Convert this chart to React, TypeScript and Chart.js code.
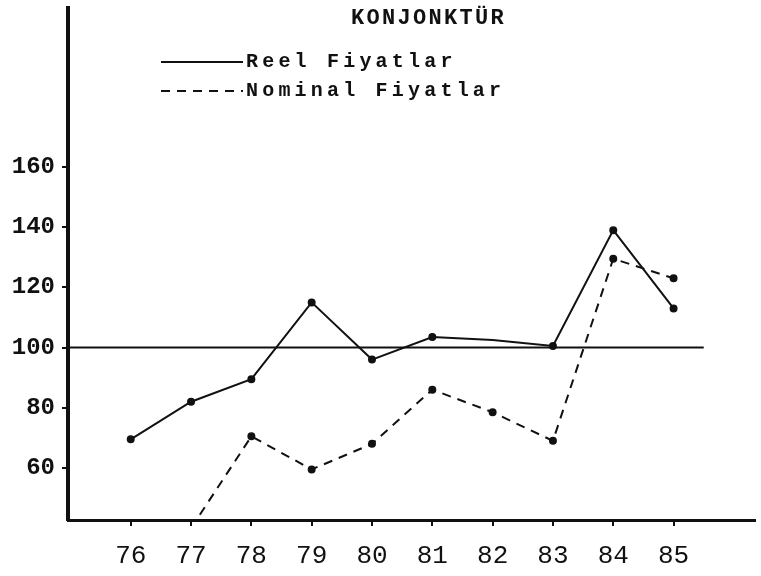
import React, { useEffect, useRef } from 'react';
import { Chart, registerables } from 'chart.js';

Chart.register(...registerables);

// ---- data ----
const chartTitle = 'KONJONKTÜR';
const years = [76, 77, 78, 79, 80, 81, 82, 83, 84, 85];
const yearLabels = ['76', '77', '78', '79', '80', '81', '82', '83', '84', '85'];
const reelLabel = 'Reel Fiyatlar';
const reelValues = [69.5, 82, 89.5, 115, 96, 103.5, 102.5, 100.5, 139, 113];
const nominalLabel = 'Nominal Fiyatlar';
const nominalValues = [null, 40, 70.5, 59.5, 68, 86, 78.5, 69, 129.5, 123];
const yTickValues = [60, 80, 100, 120, 140, 160];
const baseValue = 100;
const baseLineEndYear = 85.5;
const yMin = 42.7;
const yMax = 212.8;
const xMin = 74.96;
const xMax = 86.35;

const INK = '#111';
const FONT = '"Liberation Mono", "DejaVu Sans Mono", monospace';

const decorPlugin = {
  id: 'paperDecor',
  beforeDatasetsDraw(chart: any) {
    const { ctx, chartArea, scales } = chart;
    const y = scales.y.getPixelForValue(baseValue);
    const xEnd = scales.x.getPixelForValue(baseLineEndYear);
    ctx.save();
    ctx.strokeStyle = INK;
    ctx.lineWidth = 2;
    ctx.beginPath();
    ctx.moveTo(chartArea.left, y);
    ctx.lineTo(xEnd, y);
    ctx.stroke();
    ctx.restore();
  },
  afterDraw(chart: any) {
    const ctx = chart.ctx;
    ctx.save();
    ctx.fillStyle = INK;
    ctx.strokeStyle = INK;
    // title
    ctx.font = `bold 22px ${FONT}`;
    (ctx as any).letterSpacing = '2.3px';
    ctx.textAlign = 'left';
    ctx.textBaseline = 'middle';
    ctx.fillText(chartTitle, 351, 18);
    // legend
    const rows = [62, 91];
    chart.data.datasets.forEach((ds: any, i: number) => {
      const ry = rows[i];
      ctx.lineWidth = 2;
      ctx.setLineDash(ds.borderDash || []);
      ctx.beginPath();
      ctx.moveTo(161, ry);
      ctx.lineTo(243, ry);
      ctx.stroke();
      ctx.setLineDash([]);
      ctx.font = `bold 20px ${FONT}`;
      (ctx as any).letterSpacing = '4.2px';
      ctx.fillText(ds.label, 246, ry);
    });
    ctx.restore();
  },
};

export default function App() {
  const canvasRef = useRef<HTMLCanvasElement | null>(null);

  useEffect(() => {
    if (!canvasRef.current) return;
    const chart = new Chart(canvasRef.current, {
      type: 'line',
      data: {
        datasets: [
          {
            label: reelLabel,
            data: years.map((x, i) => ({ x, y: reelValues[i] })),
            borderColor: INK,
            backgroundColor: INK,
            borderWidth: 2,
            pointRadius: [3, 3, 3, 3, 3, 3, 0, 3, 3, 3],
            pointBackgroundColor: INK,
            pointBorderColor: INK,
            tension: 0,
          },
          {
            label: nominalLabel,
            data: years.map((x, i) => ({ x, y: nominalValues[i] })),
            borderColor: INK,
            backgroundColor: INK,
            borderWidth: 2,
            borderDash: [9, 7],
            pointRadius: [0, 0, 3, 3, 3, 3, 3, 3, 3, 3],
            pointBackgroundColor: INK,
            pointBorderColor: INK,
            tension: 0,
          },
        ],
      },
      options: {
        responsive: false,
        animation: false,
        devicePixelRatio: 1,
        layout: { padding: { top: 8, right: 1, left: 0, bottom: 0 } },
        plugins: {
          legend: { display: false },
          title: { display: false },
          tooltip: { enabled: false },
        },
        scales: {
          x: {
            type: 'linear',
            min: xMin,
            max: xMax,
            afterBuildTicks: (scale: any) => {
              scale.ticks = years.map((v) => ({ value: v }));
            },
            afterFit: (scale: any) => {
              scale.height = 56;
              scale.paddingLeft = 0;
              scale.paddingRight = 0;
            },
            grid: {
              drawOnChartArea: false,
              drawTicks: true,
              tickLength: 6,
              color: INK,
              lineWidth: 2,
            },
            border: { display: true, color: INK, width: 3 },
            ticks: {
              autoSkip: false,
              maxRotation: 0,
              padding: 15,
              color: INK,
              font: { family: FONT, size: 26 },
              callback: (v: any) => {
                const idx = years.indexOf(Number(v));
                return idx >= 0 ? yearLabels[idx] : '';
              },
            },
          },
          y: {
            type: 'linear',
            min: yMin,
            max: yMax,
            afterBuildTicks: (scale: any) => {
              scale.ticks = yTickValues.map((v) => ({ value: v }));
            },
            afterFit: (scale: any) => {
              scale.width = 68;
              scale.paddingTop = 0;
              scale.paddingBottom = 0;
            },
            grid: {
              drawOnChartArea: false,
              drawTicks: true,
              tickLength: 6,
              color: INK,
              lineWidth: 2,
            },
            border: { display: true, color: INK, width: 4 },
            ticks: {
              padding: 7,
              color: INK,
              font: { family: FONT, size: 24, weight: 'bold' },
              callback: (v: any) => String(v),
            },
          },
        },
      },
      plugins: [decorPlugin],
    });
    return () => chart.destroy();
  }, []);

  return (
    <div
      style={{
        position: 'fixed',
        left: 0,
        top: 0,
        width: 761,
        height: 576,
        background: '#fff',
      }}
    >
      <canvas ref={canvasRef} width={761} height={576} />
    </div>
  );
}
